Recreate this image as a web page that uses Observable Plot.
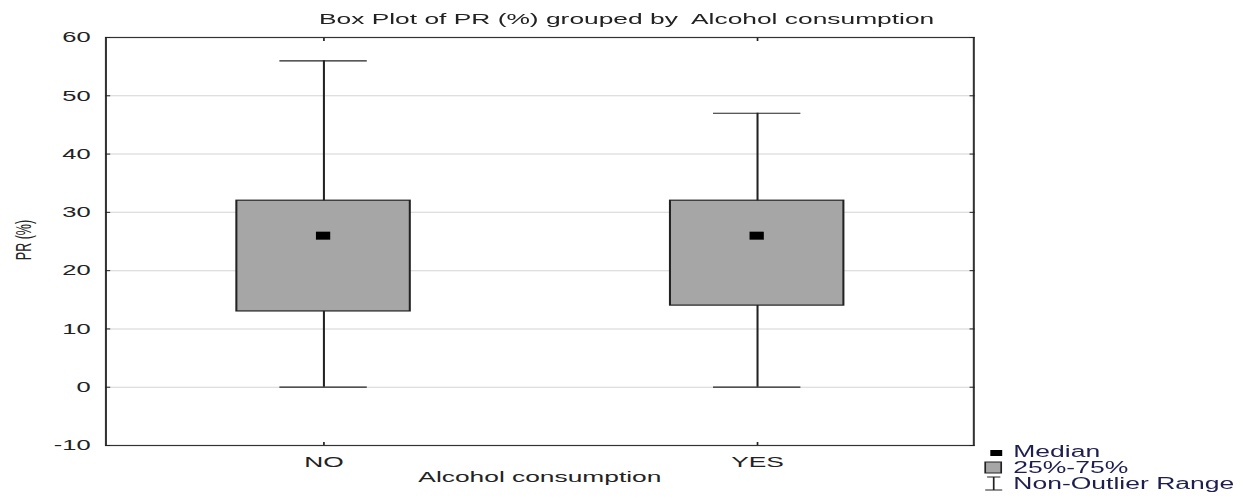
<!DOCTYPE html>
<html><head><meta charset="utf-8">
<script src="https://cdn.jsdelivr.net/npm/d3@7"></script>
<script src="https://cdn.jsdelivr.net/npm/@observablehq/plot@0.6"></script>
<style>
html,body{margin:0;padding:0;background:#fff;}
#wrap{position:relative;width:731px;height:498px;transform:scaleX(1.7004);transform-origin:0 0;font-family:"Liberation Sans",Arial,sans-serif;}
#title{position:absolute;left:3px;width:731px;top:10px;text-align:center;font-size:15.5px;line-height:18px;color:#222;white-space:pre;}
#ylabel{position:absolute;left:-16.5px;top:232px;width:60px;height:16px;line-height:16px;text-align:center;font-size:12.5px;color:#222;transform:rotate(-90deg);white-space:pre;}
#chart{position:absolute;left:0;top:0;}
#legend{position:absolute;left:575px;top:444px;overflow:visible;}
</style></head><body>
<div id="wrap"><div id="chart"></div><div id="title"></div><div id="ylabel"></div><svg id="legend" width="156" height="54"></svg></div>
<script>
const titleText = "Box Plot of PR (%) grouped by  Alcohol consumption";
const xLabel = "Alcohol consumption";
const yLabel = "PR (%)";
const groups = ["NO", "YES"];
const whiskerLow = [0, 0];
const whiskerHigh = [56, 47];
const q1 = [13, 14];
const q3 = [32, 32];
const medians = [26, 26];
const yTicks = [-10, 0, 10, 20, 30, 40, 50, 60];
const legendLabels = ["Median", "25%-75%", "Non-Outlier Range"];

const data = groups.map((g, i) => ({group: g, lo: whiskerLow[i], hi: whiskerHigh[i], q1: q1[i], q3: q3[i], median: medians[i]}));

document.getElementById("title").textContent = titleText;
document.getElementById("ylabel").textContent = yLabel;

const ink = "#222";
const chart = Plot.plot({
  width: 731,
  height: 498,
  marginLeft: 61.8,
  marginRight: 158.8,
  marginTop: 37,
  marginBottom: 53,
  style: {fontFamily: "'Liberation Sans', Arial, sans-serif", fontSize: "15px", color: ink, background: "#fff"},
  x: {type: "band", domain: groups, paddingInner: 0.6, paddingOuter: 0.3},
  y: {domain: [-10, 60]},
  marks: [
    Plot.gridY(yTicks, {stroke: "#d4d4d4", strokeOpacity: 1, strokeWidth: 1}),
    Plot.ruleX(data, {x: "group", y1: "lo", y2: "hi", stroke: ink, strokeWidth: 1.2}),
    Plot.tickY(data, {x: "group", y: "hi", stroke: ink, strokeWidth: 1.2, insetLeft: 25.3, insetRight: 25.3}),
    Plot.tickY(data, {x: "group", y: "lo", stroke: ink, strokeWidth: 1.2, insetLeft: 25.3, insetRight: 25.3}),
    Plot.barY(data, {x: "group", y1: "q1", y2: "q3", fill: "#a6a6a6", stroke: ink, strokeWidth: 1.2}),
    Plot.tickY(data, {x: "group", y: "median", stroke: "#000", strokeWidth: 8, insetLeft: 46.8, insetRight: 46.8}),
    Plot.frame({stroke: "#333", strokeWidth: 1.2}),
    Plot.axisY(yTicks, {anchor: "left", tickSize: -3, tickPadding: 12, tickFormat: d => String(d), label: null}),
    Plot.axisY(yTicks, {anchor: "right", tickSize: -3, tickFormat: () => "", label: null}),
    Plot.axisX({anchor: "bottom", tickSize: -3, tickPadding: 13, label: xLabel, labelAnchor: "center", labelOffset: 36, fontSize: 15.5}),
    Plot.axisX({anchor: "top", tickSize: -3, tickFormat: () => "", label: null})
  ]
});
document.getElementById("chart").appendChild(chart);

// legend
const lg = d3.select("#legend");
lg.append("rect").attr("x", 7.4).attr("y", 6).attr("width", 7).attr("height", 6).attr("fill", "#000");
lg.append("rect").attr("x", 4.4).attr("y", 18).attr("width", 9.4).attr("height", 11).attr("fill", "#a6a6a6").attr("stroke", ink).attr("stroke-width", 1);
lg.append("path").attr("d", "M5.5,33H13.3M9.4,33V46M4.4,46H14.4").attr("stroke", ink).attr("stroke-width", 1).attr("fill", "none");
lg.selectAll("text.lab").data(legendLabels).join("text")
  .attr("class", "lab")
  .attr("x", 20.9)
  .attr("y", (d, i) => [13, 29, 45][i])
  .attr("font-size", 15.6)
  .attr("fill", "#1f1f4f")
  .text(d => d);
</script>
</body></html>
